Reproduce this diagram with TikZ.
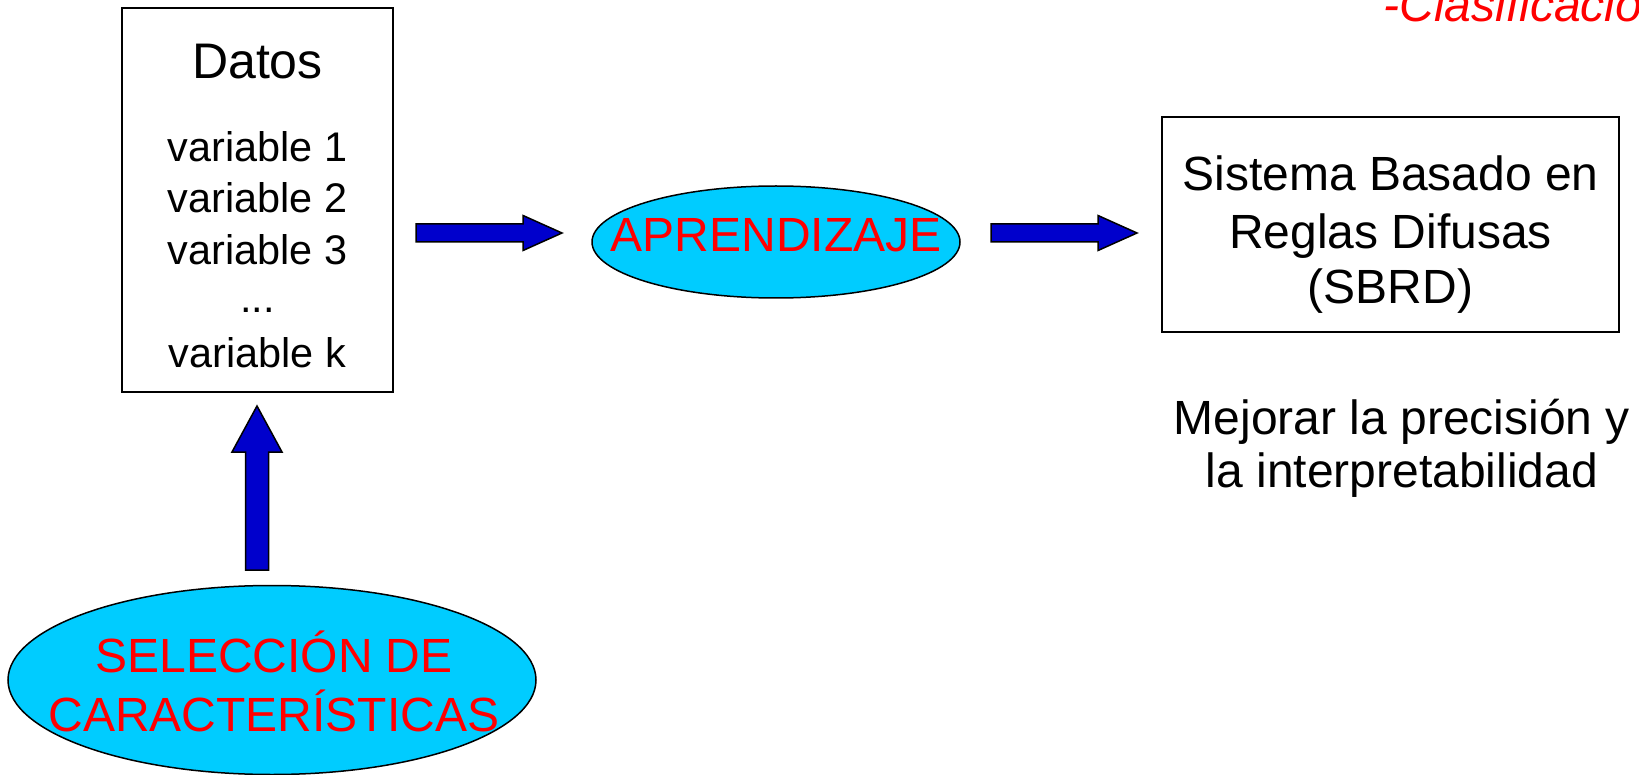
\documentclass[tikz,border=0pt]{standalone}
\usepackage{fontspec}
\setmainfont{Liberation Sans}
\usetikzlibrary{shapes.geometric,calc}
\definecolor{skyfill}{HTML}{00CCFF}
\definecolor{arrowblue}{HTML}{0000CC}
\definecolor{labelred}{HTML}{FF0000}

\begin{document}
\begin{tikzpicture}[x=0.5pt,y=-0.5pt,
  box/.style={draw=black,line width=1pt,inner sep=0pt},
  bubble/.style={ellipse,draw=black,line width=0.75pt,fill=skyfill,inner sep=0pt},
  txt/.style={anchor=base,inner sep=0pt,font=\fontsize{24}{28}\selectfont},
  vartxt/.style={anchor=base,inner sep=0pt,font=\fontsize{20.7}{24}\selectfont},
  redtxt/.style={txt,text=labelred},
  % horizontal block arrow: shaft 18, head 35 wide and 39 long
  harrow/.style={draw=black,line width=0.75pt,fill=arrowblue,
    to path={($(\tikztostart)+(0,-9)$) -- ($(\tikztotarget)+(-39,-9)$)
      -- ($(\tikztotarget)+(-39,-17.5)$) -- (\tikztotarget)
      -- ($(\tikztotarget)+(-39,17.5)$) -- ($(\tikztotarget)+(-39,9)$)
      -- ($(\tikztostart)+(0,9)$) -- cycle}},
  % upward block arrow: shaft 23, head 50 wide and 46 long
  varrow/.style={draw=black,line width=0.75pt,fill=arrowblue,
    to path={($(\tikztostart)+(-11.5,0)$) -- ($(\tikztotarget)+(-11.5,46)$)
      -- ($(\tikztotarget)+(-25,46)$) -- (\tikztotarget)
      -- ($(\tikztotarget)+(25,46)$) -- ($(\tikztotarget)+(11.5,46)$)
      -- ($(\tikztostart)+(11.5,0)$) -- cycle}}
]
\useasboundingbox (0,0) rectangle (1639,775);
\clip (0,0) rectangle (1639,775);

% heading, cut by the page edge
\node[redtxt,anchor=base west,font=\fontsize{24}{28}\selectfont\itshape] (head) at (1383,22) {-Clasificación};

% data box
\node[box,minimum width=135.5pt,minimum height=192pt] (datos) at (257.5,200) {};
\node[txt,font=\fontsize{25}{30}\selectfont] (datostitle) at (257.5,79) {Datos};
\node[vartxt] (v1) at (257.5,162) {variable 1};
\node[vartxt] (v2) at (257.5,213) {variable 2};
\node[vartxt] (v3) at (257.5,265) {variable 3};
\node[vartxt] (vdots) at (257.5,313) {...};
\node[vartxt] (vk) at (257.5,367) {variable k};

% learning step
\node[bubble,minimum width=184pt,minimum height=56pt] (aprend) at (776,242) {};
\node[redtxt] (aprendtxt) at (776,252) {APRENDIZAJE};

% resulting rule system
\node[box,minimum width=228.5pt,minimum height=107.5pt] (sbrd) at (1390.5,224.5) {};
\node[txt] (s1) at (1390.5,191) {Sistema Basado en};
\node[txt] (s2) at (1390.5,249) {Reglas Difusas};
\node[txt] (s3) at (1390.5,304) {(SBRD)};

% goal
\node[txt] (g1) at (1402,434) {Mejorar la precisión y};
\node[txt] (g2) at (1402,487) {la interpretabilidad};

% feature selection
\node[bubble,minimum width=264pt,minimum height=94.5pt] (sel) at (272,680) {};
\node[redtxt] (sel1) at (274,672) {SELECCIÓN DE};
\node[redtxt] (sel2) at (274,731) {CARACTERÍSTICAS};

% block arrows
\coordinate (a1s) at (416,233);
\coordinate (a1e) at (562,233);
\coordinate (a2s) at (991,233);
\coordinate (a2e) at (1137,233);
\coordinate (a3s) at (257,570);
\coordinate (a3e) at (257,406);
\draw[harrow] (a1s) to (a1e);
\draw[harrow] (a2s) to (a2e);
\draw[varrow] (a3s) to (a3e);
\end{tikzpicture}
\end{document}
